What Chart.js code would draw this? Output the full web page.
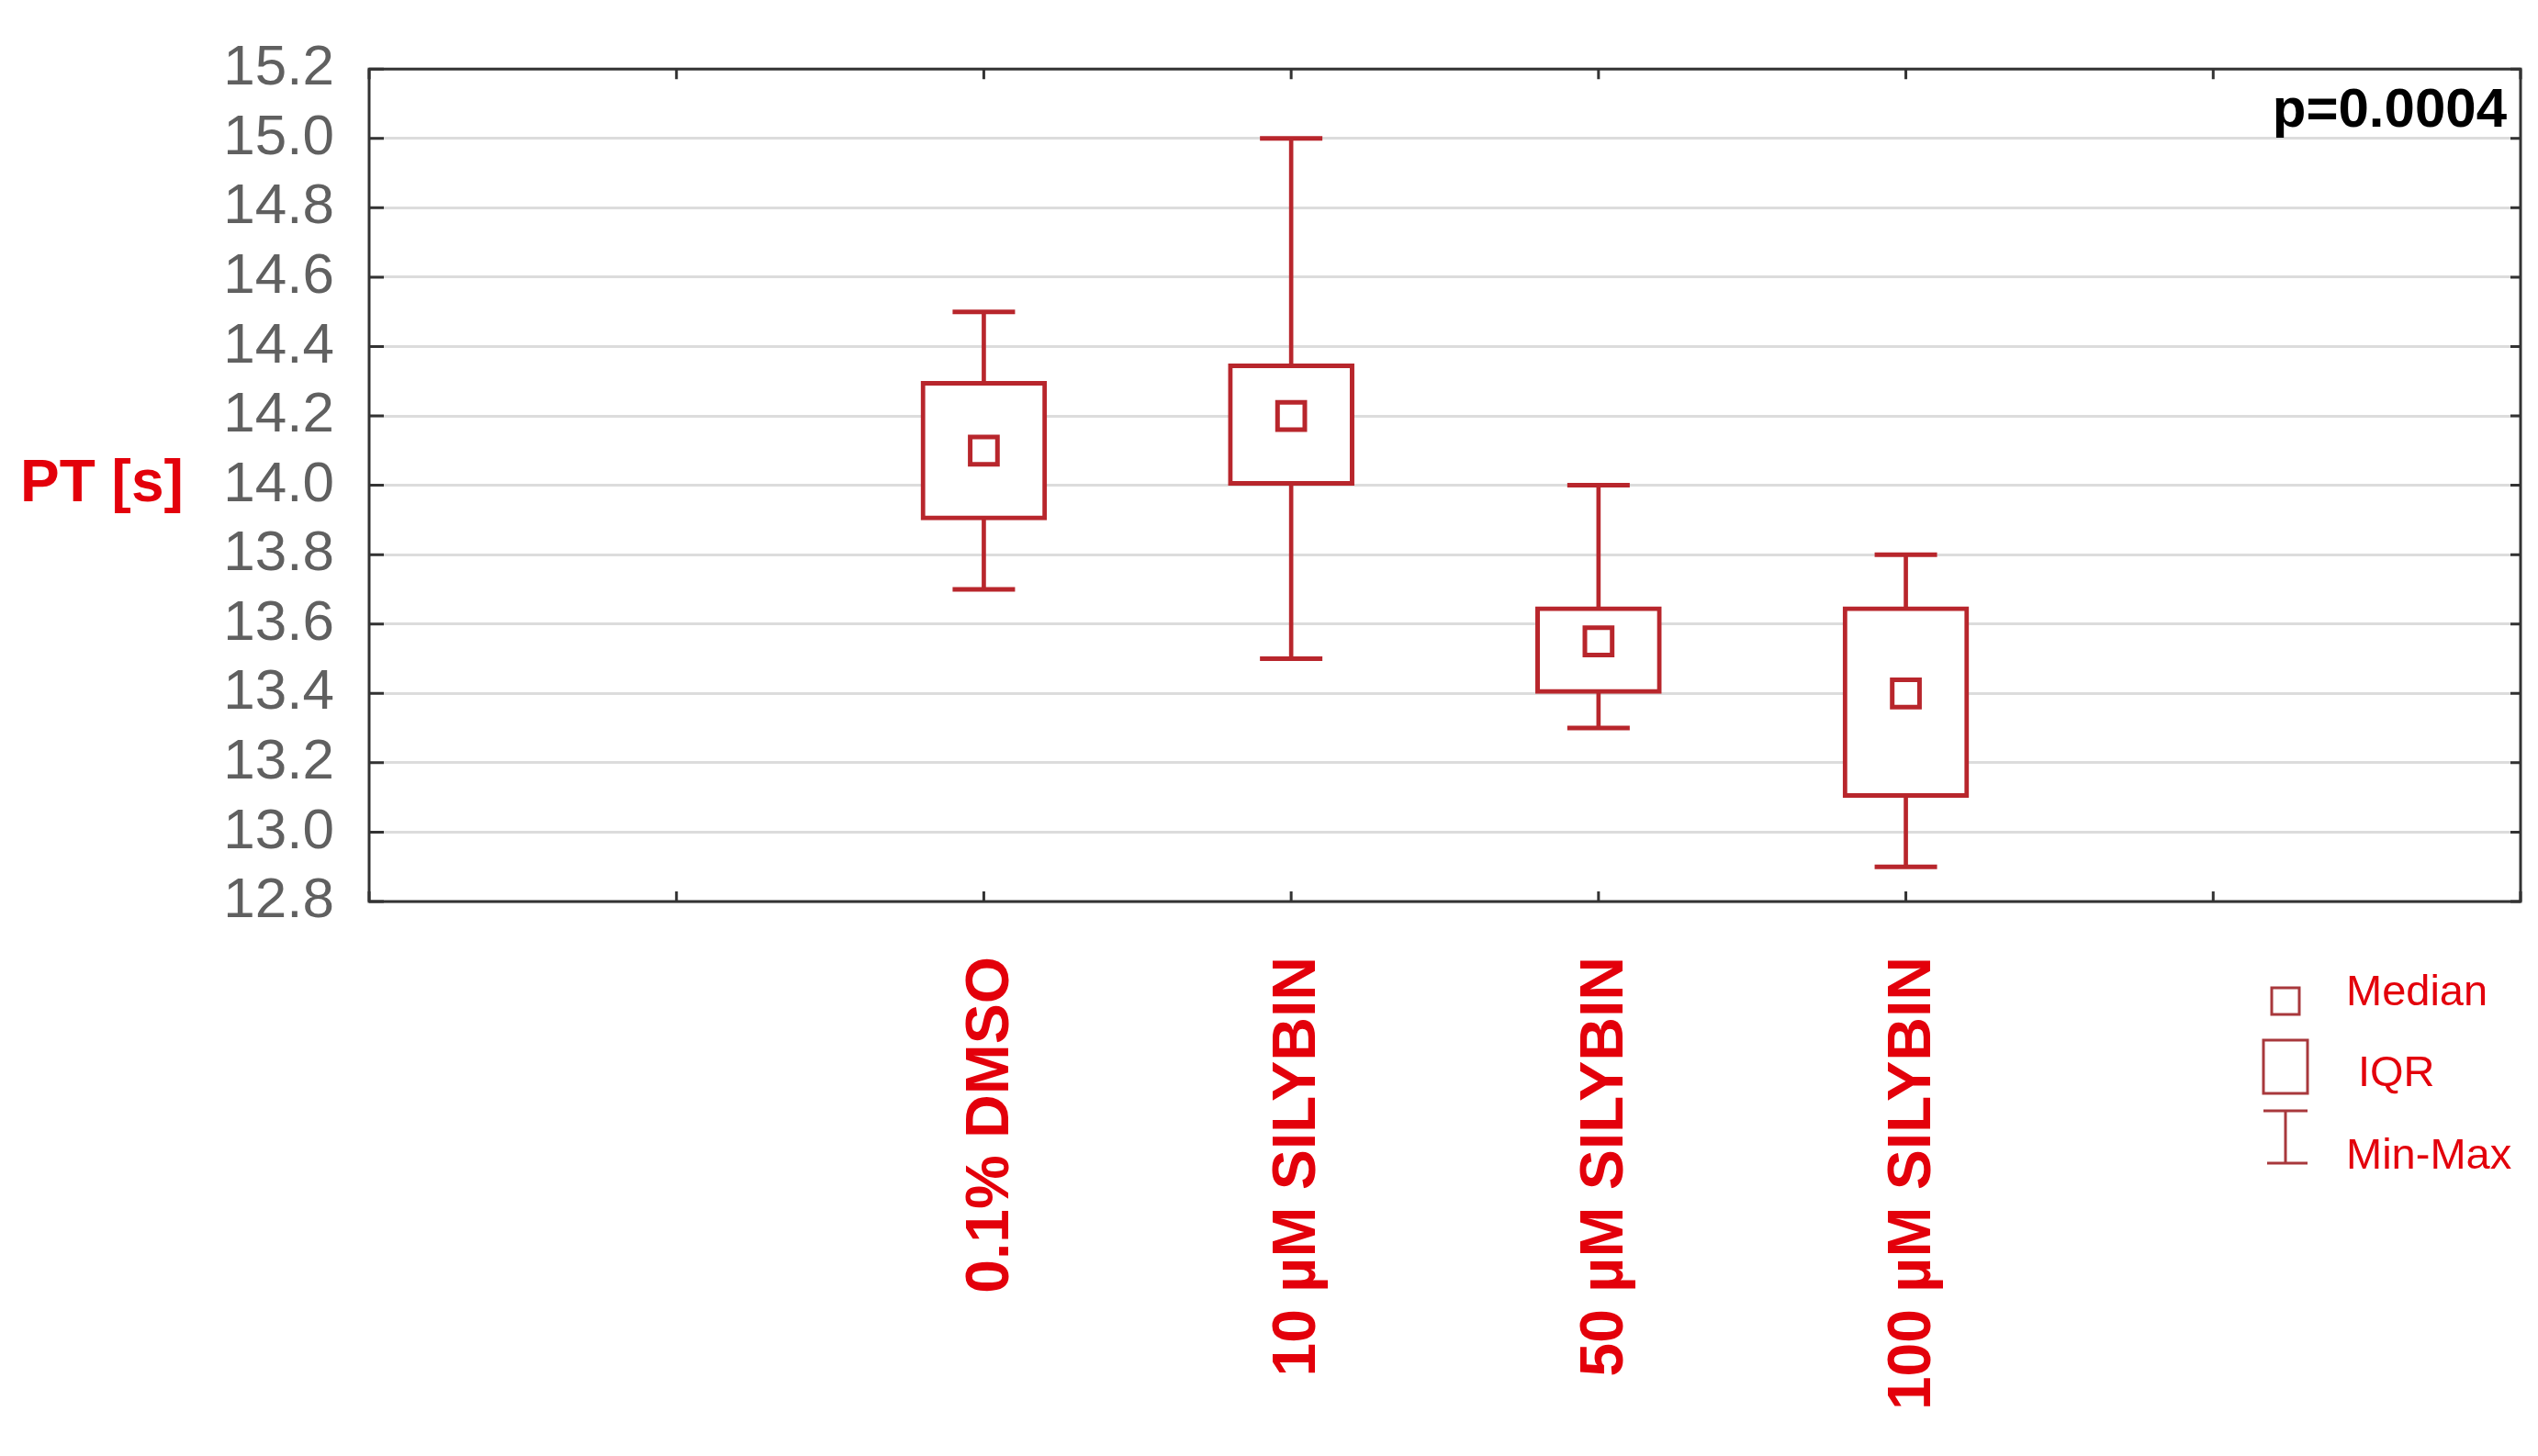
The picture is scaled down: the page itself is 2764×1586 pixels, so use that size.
<!DOCTYPE html>
<html>
<head>
<meta charset="utf-8">
<title>PT [s]</title>
<script src="https://cdn.jsdelivr.net/npm/chart.js@4.4.0/dist/chart.umd.min.js"></script>
<style>
    html, body { margin: 0; padding: 0; background: #fff; }
</style>
</head>
<body>
<canvas id="ptChart" width="2764" height="1586"></canvas>
<script>
// Values
const categories = ['0.1% DMSO', '10 µM SILYBIN', '50 µM SILYBIN', '100 µM SILYBIN'];
const minValues = [13.7, 13.5, 13.3, 12.9];
const q1Values = [13.9, 14.0, 13.4, 13.1];
const medianValues = [14.1, 14.2, 13.55, 13.4];
const q3Values = [14.3, 14.35, 13.65, 13.65];
const maxValues = [14.5, 15.0, 14.0, 13.8];
const yTickValues = [12.8, 13.0, 13.2, 13.4, 13.6, 13.8, 14.0, 14.2, 14.4, 14.6, 14.8, 15.0, 15.2];
const pValueText = 'p=0.0004';
const yTitle = 'PT [s]';
const legendLabels = ['Median', 'IQR', 'Min-Max'];

const boxColor = '#b8262c';
const labelRed = '#e3000b';
const sansFont = '"Liberation Sans", Arial, sans-serif';

// the axis has two empty slots on each side of the groups
const pad = arr => [null, null, ...arr, null, null];
const xLabels = ['', '', ...categories, '', ''];

// Frame, inward ticks, y title, p-value and the legend
const decorations = {
    id: 'decorations',
    afterDatasetsDraw(chart) {
        const { ctx, chartArea: a, scales: { x, y } } = chart;
        ctx.save();
        ctx.strokeStyle = '#333';
        ctx.lineWidth = 3;
        ctx.beginPath();
        x.ticks.forEach((t, i) => {
            const px = x.getPixelForTick(i);
            ctx.moveTo(px, a.top); ctx.lineTo(px, a.top + 11);
            ctx.moveTo(px, a.bottom); ctx.lineTo(px, a.bottom - 11);
        });
        y.ticks.forEach((t, i) => {
            const py = y.getPixelForTick(i);
            ctx.moveTo(a.left, py); ctx.lineTo(a.left + 16, py);
            ctx.moveTo(a.right, py); ctx.lineTo(a.right - 11, py);
        });
        ctx.stroke();
        ctx.strokeRect(a.left, a.top, a.right - a.left, a.bottom - a.top);
        ctx.restore();
    },
    afterDraw(chart) {
        const { ctx, chartArea: a, scales: { y } } = chart;
        ctx.save();

        // y axis title, horizontal
        ctx.fillStyle = labelRed;
        ctx.font = 'bold 64px ' + sansFont;
        ctx.textAlign = 'left';
        ctx.textBaseline = 'middle';
        ctx.fillText(yTitle, 22, y.getPixelForValue(14.0));

        // p value in the top right corner
        ctx.fillStyle = '#000';
        ctx.font = 'bold 60px ' + sansFont;
        ctx.textAlign = 'right';
        ctx.textBaseline = 'alphabetic';
        ctx.fillText(pValueText, a.right - 15, a.top + 63);

        // legend
        const sx = 2489;
        ctx.strokeStyle = '#a8383c';
        ctx.lineWidth = 3;
        ctx.strokeRect(sx - 15, 1076, 30, 29);
        ctx.strokeRect(sx - 24, 1133, 48, 58);
        ctx.beginPath();
        ctx.moveTo(sx - 24, 1210); ctx.lineTo(sx + 24, 1210);
        ctx.moveTo(sx, 1210); ctx.lineTo(sx, 1267);
        ctx.moveTo(sx - 20, 1267); ctx.lineTo(sx + 24, 1267);
        ctx.stroke();

        ctx.fillStyle = labelRed;
        ctx.font = '47px ' + sansFont;
        ctx.textAlign = 'left';
        ctx.textBaseline = 'middle';
        ctx.fillText(legendLabels[0], 2555, 1082);
        ctx.fillText(legendLabels[1], 2568, 1170);
        ctx.fillText(legendLabels[2], 2555, 1260);
        ctx.restore();
    }
};

const ctx = document.getElementById('ptChart').getContext('2d');
new Chart(ctx, {
    type: 'bar',
    data: {
        labels: xLabels,
        datasets: [
            {
                // whisker stem
                type: 'bar',
                data: pad(minValues.map((v, i) => [v, maxValues[i]])),
                backgroundColor: boxColor,
                borderWidth: 0,
                barThickness: 4,
                grouped: false,
                order: 4
            },
            {
                // IQR box
                type: 'bar',
                data: pad(q1Values.map((v, i) => [v, q3Values[i]])),
                backgroundColor: '#ffffff',
                borderColor: boxColor,
                borderWidth: 5,
                borderSkipped: false,
                barThickness: 137,
                grouped: false,
                order: 3
            },
            {
                // min caps
                type: 'line',
                data: pad(minValues),
                showLine: false,
                pointStyle: 'line',
                pointRadius: 34,
                pointBorderWidth: 5,
                pointBorderColor: boxColor,
                order: 2
            },
            {
                // max caps
                type: 'line',
                data: pad(maxValues),
                showLine: false,
                pointStyle: 'line',
                pointRadius: 34,
                pointBorderWidth: 5,
                pointBorderColor: boxColor,
                order: 2
            },
            {
                // median
                type: 'line',
                data: pad(medianValues),
                showLine: false,
                pointStyle: 'rect',
                pointRadius: 21,
                pointBorderWidth: 5,
                pointBorderColor: boxColor,
                pointBackgroundColor: '#ffffff',
                order: 1
            }
        ]
    },
    options: {
        responsive: false,
        animation: false,
        events: [],
        layout: { autoPadding: false, padding: { left: 0, right: 19, top: 70, bottom: 0 } },
        plugins: {
            legend: { display: false },
            tooltip: { enabled: false }
        },
        scales: {
            x: {
                offset: false,
                grid: { display: false },
                border: { display: false },
                ticks: {
                    autoSkip: false,
                    minRotation: 90,
                    maxRotation: 90,
                    padding: 52,
                    labelOffset: 8,
                    color: labelRed,
                    font: { family: sansFont, size: 66, weight: 'bold' }
                },
                afterFit: scale => {
                    scale.height = 604;
                    scale.paddingLeft = 0;
                    scale.paddingRight = 0;
                }
            },
            y: {
                min: 12.8,
                max: 15.2,
                afterBuildTicks: scale => { scale.ticks = yTickValues.map(v => ({ value: v })); },
                grid: { color: '#dcdcdc', lineWidth: 3, drawTicks: false },
                border: { display: false },
                ticks: {
                    autoSkip: false,
                    padding: 38,
                    color: '#606060',
                    font: { family: sansFont, size: 62 },
                    callback: v => v.toFixed(1)
                },
                afterFit: scale => { scale.width = 402; }
            }
        }
    },
    plugins: [decorations]
});
</script>
</body>
</html>
